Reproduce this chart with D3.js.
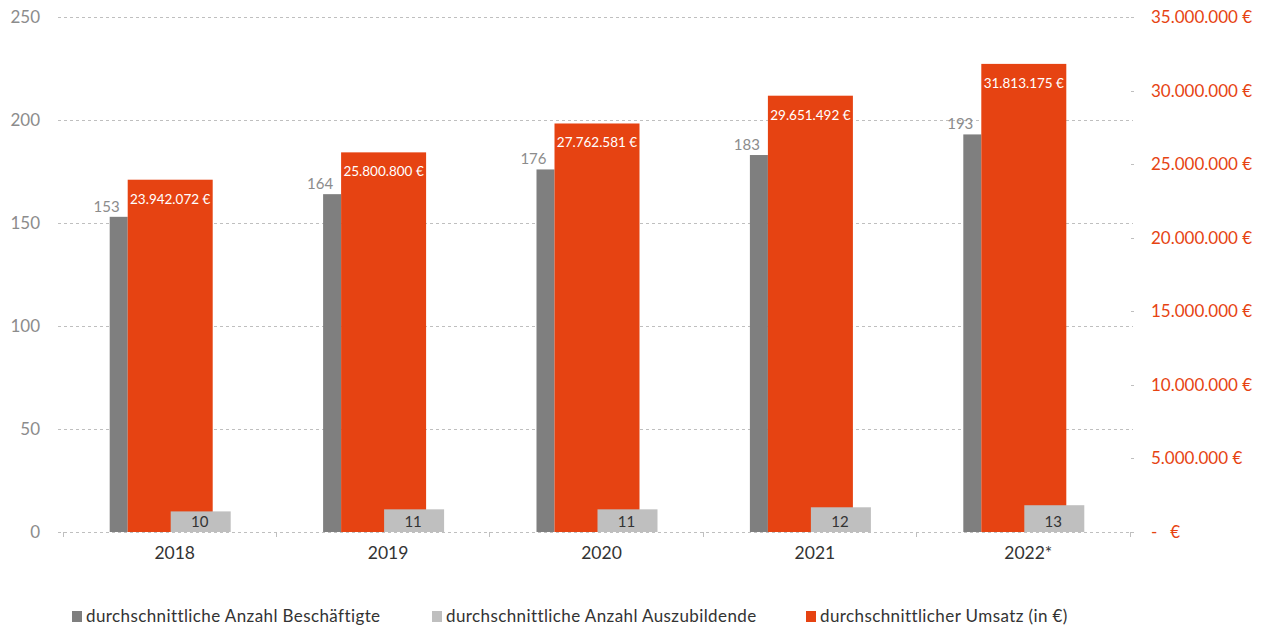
<!DOCTYPE html>
<html>
<head>
<meta charset="utf-8">
<script src="https://cdn.jsdelivr.net/npm/d3@7"></script>
<style>
  body { margin: 0; background: #fff; }
  svg { display: block; font-family: Lato, "Noto Sans", sans-serif; }
</style>
</head>
<body>
<svg id="chart" width="1267" height="631"></svg>
<script>
// Jahre und Kennzahlen
const years = ["2018", "2019", "2020", "2021", "2022*"];
const employees = [153, 164, 176, 183, 193];
const trainees = [10, 11, 11, 12, 13];
const revenue = [23942072, 25800800, 27762581, 29651492, 31813175];
const leftTicks = [0, 50, 100, 150, 200, 250];
const rightTicks = [0, 5000000, 10000000, 15000000, 20000000, 25000000, 30000000, 35000000];
const legendLabels = [
  "durchschnittliche Anzahl Beschäftigte",
  "durchschnittliche Anzahl Auszubildende",
  "durchschnittlicher Umsatz (in €)"
];

const colEmp = "#7f7f7f";
const colTrain = "#bfbfbf";
const colRev = "#e64312";
const colText = "#333333";

const svg = d3.select("#chart");

const x = d3.scaleBand().domain(years).range([67, 1134]);
const yL = d3.scaleLinear().domain([0, 250]).range([532, 17]);
const yR = d3.scaleLinear().domain([0, 35000000]).range([532, 17]);

const gridLeft = 58, gridRight = 1133;

// Gitterlinien (primäre Achse)
svg.append("g").selectAll("line").data(leftTicks).join("line")
  .attr("x1", gridLeft).attr("x2", gridRight)
  .attr("y1", d => yL(d)).attr("y2", d => yL(d))
  .attr("stroke", "#bfbfbf").attr("stroke-width", 1)
  .attr("stroke-dasharray", "3,3")
  .attr("shape-rendering", "crispEdges");

// Teilstriche der Kategorieachse
const catTicks = years.map(d => x(d) - 4).concat([x(years[years.length - 1]) + x.bandwidth() - 4]);
svg.append("g").selectAll("line").data(catTicks).join("line")
  .attr("x1", d => d).attr("x2", d => d)
  .attr("y1", 532).attr("y2", 537)
  .attr("stroke", "#bfbfbf").attr("shape-rendering", "crispEdges");

// Teilstriche der Sekundärachse
svg.append("g").selectAll("line").data(rightTicks).join("line")
  .attr("x1", 1131).attr("x2", 1134)
  .attr("y1", d => Math.round(yR(d)) + 0.5).attr("y2", d => Math.round(yR(d)) + 0.5)
  .attr("stroke", "#bfbfbf");

// Linke Achse
svg.append("g").selectAll("text").data(leftTicks).join("text")
  .attr("x", 40).attr("y", d => yL(d))
  .attr("dy", "0.35em").attr("text-anchor", "end")
  .attr("fill", "#8c8c8c").attr("font-size", 17)
  .text(d => d);

// Rechte Achse
const fmtDE = d3.formatLocale({ decimal: ",", thousands: ".", grouping: [3], currency: ["", " €"] }).format(",.0f");
svg.append("g").selectAll("text").data(rightTicks).join("text")
  .attr("x", 1151).attr("y", d => yR(d))
  .attr("dy", "0.35em").attr("text-anchor", "start")
  .attr("fill", colRev).attr("font-size", 17)
  .attr("xml:space", "preserve")
  .text(d => d === 0 ? "-   €" : fmtDE(d) + " €");

const cx = d => x(d) + x.bandwidth() / 2;

// Beschäftigte
svg.append("g").selectAll("rect").data(years).join("rect")
  .attr("x", d => cx(d) - 64).attr("width", 18)
  .attr("y", (d, i) => yL(employees[i]))
  .attr("height", (d, i) => yL(0) - yL(employees[i]))
  .attr("fill", colEmp);

// Umsatz
svg.append("g").selectAll("rect").data(years).join("rect")
  .attr("x", d => cx(d) - 46).attr("width", 85)
  .attr("y", (d, i) => yR(revenue[i]))
  .attr("height", (d, i) => yR(0) - yR(revenue[i]))
  .attr("fill", colRev);

// Auszubildende
svg.append("g").selectAll("rect").data(years).join("rect")
  .attr("x", d => cx(d) - 3).attr("width", 60)
  .attr("y", (d, i) => yL(trainees[i]))
  .attr("height", (d, i) => yL(0) - yL(trainees[i]))
  .attr("fill", colTrain);

// Werte: Beschäftigte
svg.append("g").selectAll("text").data(years).join("text")
  .attr("x", d => cx(d) - 54).attr("y", (d, i) => yL(employees[i]) - 5)
  .attr("text-anchor", "end").attr("fill", "#8c8c8c").attr("font-size", 15)
  .text((d, i) => employees[i]);

// Werte: Umsatz (auf die Säule beschnitten)
const defs = svg.append("defs");
years.forEach((d, i) => {
  defs.append("clipPath").attr("id", "rc" + i).append("rect")
    .attr("x", cx(d) - 46).attr("width", 85)
    .attr("y", yR(revenue[i])).attr("height", yR(0) - yR(revenue[i]));
});
svg.append("g").selectAll("text").data(years).join("text")
  .attr("x", d => cx(d) - 3.5).attr("y", (d, i) => yR(revenue[i]) + 24)
  .attr("text-anchor", "middle").attr("fill", "#fff").attr("font-size", 13.5)
  .attr("clip-path", (d, i) => `url(#rc${i})`)
  .text((d, i) => fmtDE(revenue[i]) + " €");

// Werte: Auszubildende
svg.append("g").selectAll("text").data(years).join("text")
  .attr("x", d => cx(d) + 26).attr("y", (d, i) => yL(0) - 5)
  .attr("text-anchor", "middle").attr("fill", colText).attr("font-size", 15)
  .text((d, i) => trainees[i]);

// Kategorieachse
svg.append("g").selectAll("text").data(years).join("text")
  .attr("x", d => cx(d) + 1).attr("y", 559)
  .attr("text-anchor", "middle").attr("fill", colText).attr("font-size", 17.5)
  .text(d => d);

// Legende
const legendX = [72, 432, 806];
const legendCols = [colEmp, colTrain, colRev];
const lg = svg.append("g").selectAll("g").data(legendLabels).join("g")
  .attr("transform", (d, i) => `translate(${legendX[i]},611)`);
lg.append("rect").attr("width", 10).attr("height", 11).attr("fill", (d, i) => legendCols[i]);
lg.append("text").attr("x", 14).attr("y", 11)
  .attr("fill", colText).attr("font-size", 17)
  .attr("letter-spacing", 0.4)
  .text(d => d);
</script>
</body>
</html>
